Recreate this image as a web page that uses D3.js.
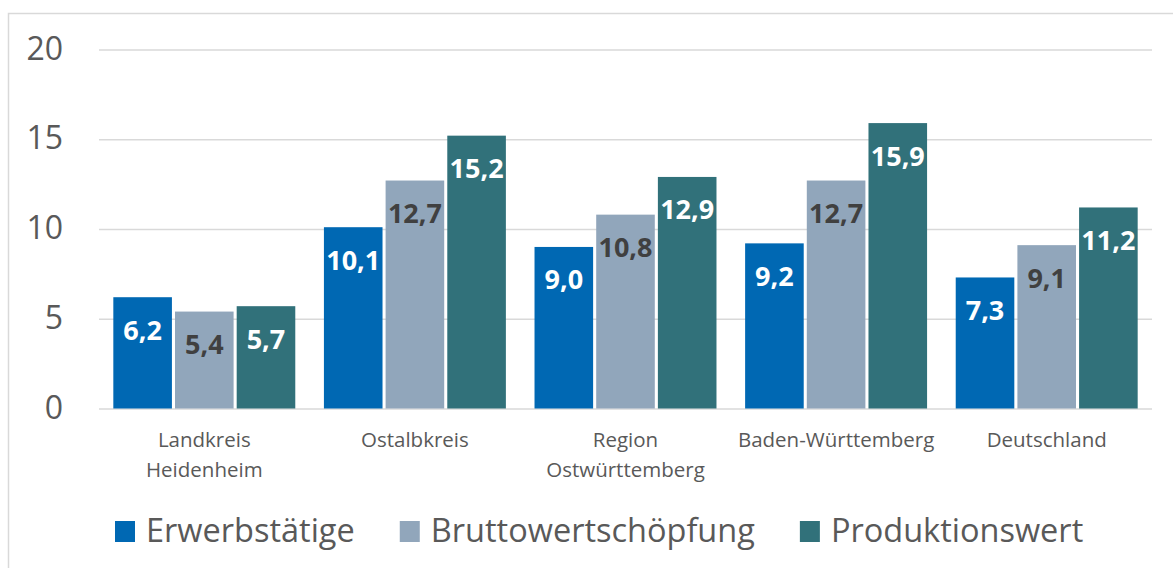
<!DOCTYPE html>
<html>
<head>
<meta charset="utf-8">
<script src="https://cdn.jsdelivr.net/npm/d3@7"></script>
<style>
  body { margin: 0; background: #fff; }
  svg { display: block; font-family: "Open Sans", sans-serif; }
</style>
</head>
<body>
<div class="chartContainer"></div>
<script>
const categories = [["Landkreis", "Heidenheim"], ["Ostalbkreis"], ["Region", "Ostwürttemberg"], ["Baden-Württemberg"], ["Deutschland"]]
const seriesNames = ["Erwerbstätige", "Bruttowertschöpfung", "Produktionswert"]
const erwerbstaetige = [6.2, 10.1, 9.0, 9.2, 7.3]
const bruttowert = [5.4, 12.7, 10.8, 12.7, 9.1]
const produktionswert = [5.7, 15.2, 12.9, 15.9, 11.2]
const yTicks = [0, 5, 10, 15, 20]

const colors = ["#0068b3", "#91a6bb", "#31717a"]
const labelColors = ["#ffffff", "#404040", "#ffffff"]
const allSeries = [erwerbstaetige, bruttowert, produktionswert]

const W = 1173, H = 568
let svg = d3.select(".chartContainer").append("svg").attr("width", W).attr("height", H)

// chart frame
svg.append("rect")
   .attr("x", 8.5).attr("y", 13.5)
   .attr("width", 1200).attr("height", 600)
   .attr("fill", "none").attr("stroke", "#d9d9d9").attr("stroke-width", 1.5)

const keys = categories.map(c => c.join(" "))
const x0 = d3.scaleBand().domain(keys).range([99, 1152]).paddingInner(0.136).paddingOuter(0.068)
const x1 = d3.scaleBand().domain(d3.range(3)).range([0, x0.bandwidth()]).paddingInner(0.05)
const y = d3.scaleLinear().domain([0, 20]).range([408.5, 49.5])

// gridlines + y labels
const yAxis = d3.axisLeft(y).tickValues(yTicks).tickSize(-(1152 - 99)).tickPadding(36).tickFormat(d3.format("d"))
let gy = svg.append("g").attr("transform", "translate(99,0)").call(yAxis)
gy.select(".domain").remove()
gy.selectAll(".tick line").attr("stroke", "#d9d9d9").attr("stroke-width", 1.5)
gy.selectAll(".tick text")
  .attr("fill", "#595959")
  .style("font-size", "32px")
  .style("font-family", "Open Sans")
  .attr("dy", "0.3em")

// bars
const rows = keys.map((k, i) => ({ key: k, vals: allSeries.map(s => s[i]) }))
let groups = svg.selectAll("g.grp")
   .data(rows)
   .enter()
   .append("g")
   .attr("class", "grp")
   .attr("transform", d => "translate(" + x0(d.key) + ",0)")

groups.selectAll("rect")
   .data(d => d.vals)
   .enter()
   .append("rect")
   .attr("x", (d, i) => x1(i))
   .attr("y", d => y(d))
   .attr("width", x1.bandwidth())
   .attr("height", d => y(0) - y(d))
   .attr("fill", (d, i) => colors[i])

groups.selectAll("text.val")
   .data(d => d.vals)
   .enter()
   .append("text")
   .attr("class", "val")
   .attr("x", (d, i) => x1(i) + x1.bandwidth() / 2)
   .attr("y", d => y(d) + 42.5)
   .attr("text-anchor", "middle")
   .attr("fill", (d, i) => labelColors[i])
   .style("font-size", "27px")
   .style("font-weight", "bold")
   .text(d => d.toFixed(1).replace(".", ","))

// category labels
categories.forEach((lines, i) => {
    let t = svg.append("text")
       .attr("x", x0(keys[i]) + x0.bandwidth() / 2)
       .attr("y", 446.5)
       .attr("text-anchor", "middle")
       .attr("fill", "#595959")
       .style("font-size", "20.5px")
    lines.forEach((l, j) => {
        t.append("tspan").attr("x", x0(keys[i]) + x0.bandwidth() / 2).attr("dy", j === 0 ? 0 : 30).text(l)
    })
})

// legend
let lx = 115
seriesNames.forEach((name, i) => {
    svg.append("rect")
       .attr("x", lx).attr("y", 521)
       .attr("width", 20).attr("height", 21)
       .attr("fill", colors[i])
    let t = svg.append("text")
       .attr("x", lx + 31).attr("y", 542)
       .attr("fill", "#595959")
       .style("font-size", "32.5px")
       .text(name)
    lx += 31 + t.node().getComputedTextLength() + 45
})
</script>
</body>
</html>
